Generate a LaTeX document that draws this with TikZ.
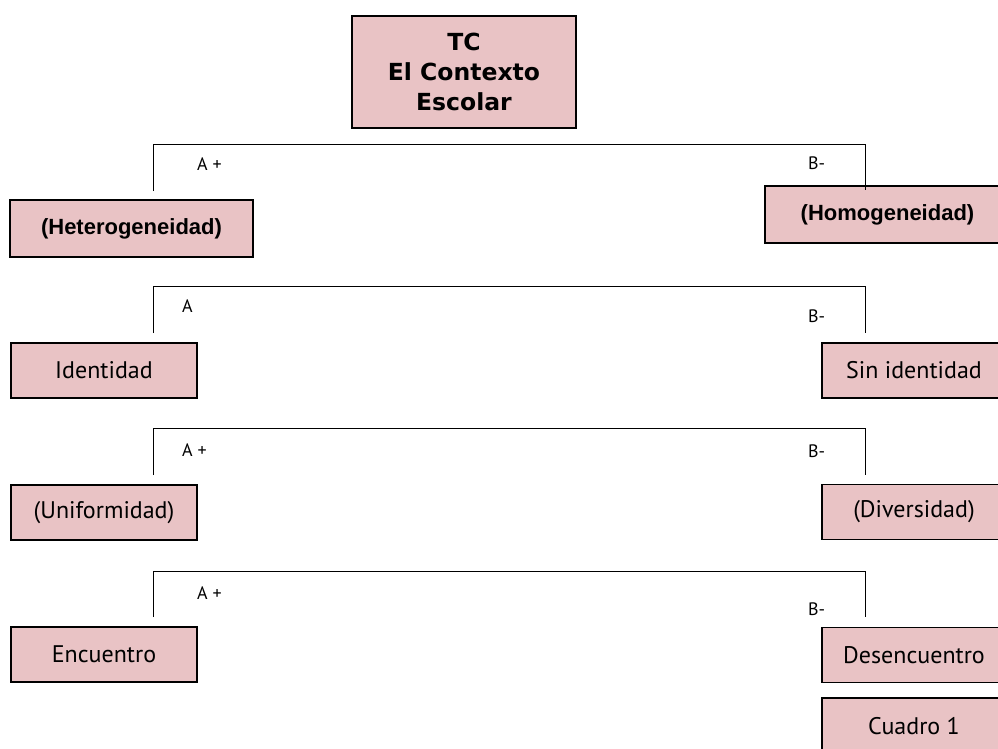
\documentclass[tikz,border=0pt]{standalone}
\usepackage{fontspec}
\setmainfont{PT Sans}
\newfontfamily\titlefam{DejaVu Sans}
\newfontfamily\boldfam{Liberation Sans}
\definecolor{boxpink}{RGB}{233,195,197}
\tikzset{
  pbox/.style={draw=black, line width=1.2pt, fill=boxpink, rectangle, inner sep=0pt, font=\fontsize{24}{28}\selectfont},
  pboxb/.style={pbox, font=\boldfam\fontsize{22}{26}\selectfont\bfseries},
  lab/.style={inner sep=0pt, font=\fontsize{18}{21}\selectfont},
  brk/.style={draw=black, line width=1pt}
}
\begin{document}
\begin{tikzpicture}[x=1pt,y=-1pt]
\useasboundingbox (0,0) rectangle (998,748);
\clip (0,0) rectangle (998,748);
% title
\node[pbox, minimum width=224pt, minimum height=112pt, align=center,
      font=\titlefam\fontsize{23.5}{30}\selectfont\bfseries] (tc) at (464,72) {TC\\El Contexto\\Escolar};
% row 1
\node[pboxb, minimum width=243pt, minimum height=57pt] (het) at (131.5,228.5) {(Heterogeneidad)};
\node[pboxb, minimum width=245pt, minimum height=57pt] (hom) at (887.5,214.5) {(Homogeneidad)};
\coordinate (l1) at (153,191);
\coordinate (r1) at (865,190);
\draw[brk] (l1) |- (865,144) -- (r1);
\node[lab, anchor=west] (a1) at (197,164) {A +};
\node[lab, anchor=west] (b1) at (808,163) {B-};
% row 2
\node[pbox, minimum width=186pt, minimum height=55pt] (ide) at (104,370.5) {Identidad};
\node[pbox, minimum width=184pt, minimum height=55pt] (sin) at (914,370.5) {Sin identidad};
\coordinate (l2) at (153,333);
\coordinate (r2) at (865,333);
\draw[brk] (l2) |- (865,286) -- (r2);
\node[lab, anchor=west] (a2) at (182,306) {A};
\node[lab, anchor=west] (b2) at (808,316) {B-};
% row 3
\node[pbox, minimum width=186pt, minimum height=55pt] (uni) at (104,512.5) {(Uniformidad)};
\node[pbox, minimum width=184pt, minimum height=55pt] (div) at (914,512) {(Diversidad)};
\coordinate (l3) at (153,475);
\coordinate (r3) at (865,475);
\draw[brk] (l3) |- (865,428) -- (r3);
\node[lab, anchor=west] (a3) at (182,450) {A +};
\node[lab, anchor=west] (b3) at (808,451) {B-};
% row 4
\node[pbox, minimum width=186pt, minimum height=55pt] (enc) at (104,654.5) {Encuentro};
\node[pbox, minimum width=184pt, minimum height=55pt] (des) at (914,655) {Desencuentro};
\node[pbox, minimum width=184pt, minimum height=56pt] (cua) at (914,726) {Cuadro 1};
\coordinate (l4) at (153,617);
\coordinate (r4) at (865,617);
\draw[brk] (l4) |- (865,571) -- (r4);
\node[lab, anchor=west] (a4) at (197,593) {A +};
\node[lab, anchor=west] (b4) at (808,609) {B-};
\end{tikzpicture}
\end{document}
